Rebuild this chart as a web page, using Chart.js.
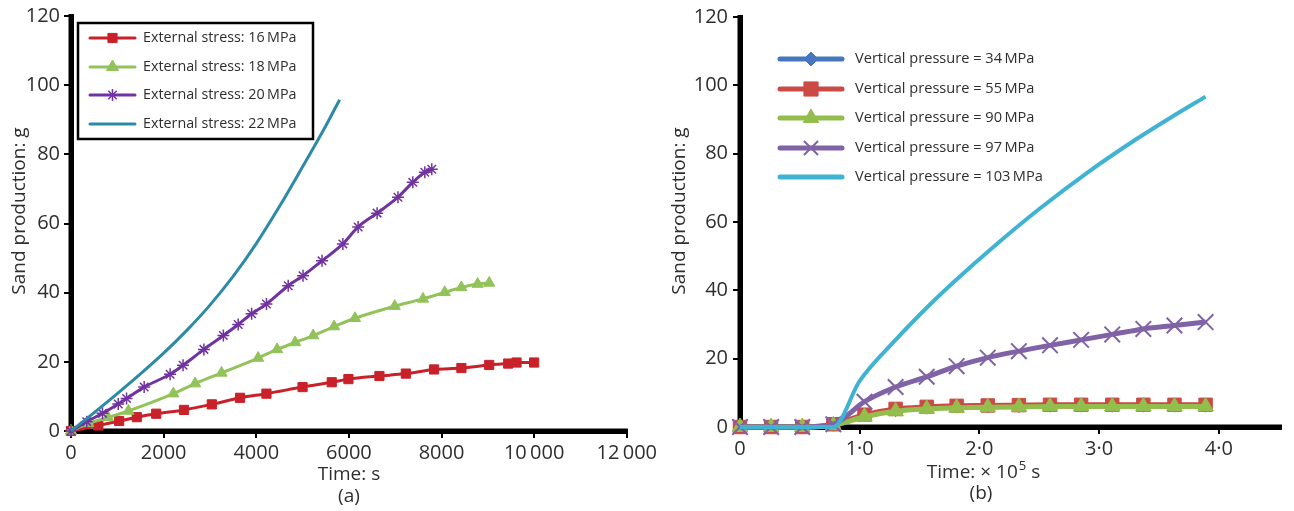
<!DOCTYPE html>
<html>
<head>
<meta charset="utf-8">
<script src="https://cdn.jsdelivr.net/npm/chart.js@4.4.1/dist/chart.umd.min.js"></script>
<style>
  html, body { margin: 0; padding: 0; background: #fff; }
  #wrap { position: relative; width: 1294px; height: 511px; overflow: hidden; background: #fff; }
  #chartA { position: absolute; left: 0; top: 0; }
  #chartB { position: absolute; left: 660px; top: 0; }
</style>
</head>
<body>
<div id="wrap">
  <canvas id="chartA" width="660" height="511"></canvas>
  <canvas id="chartB" width="634" height="511"></canvas>
</div>
<script>
// ---- (a) sand production vs time under different external stresses ----
const stress16Time = [0, 590, 1040, 1420, 1840, 2440, 3040, 3650, 4220, 5000, 5630, 5990, 6660, 7230, 7840, 8430, 9030, 9440, 9620, 10000];
const stress16Sand = [0, 1.6, 2.9, 4.0, 5.0, 6.1, 7.7, 9.6, 10.8, 12.7, 14.1, 15.0, 15.9, 16.6, 17.8, 18.2, 19.1, 19.5, 19.8, 19.8];

const stress18Time = [0, 370, 800, 1240, 2210, 2680, 3250, 4040, 4450, 4840, 5230, 5680, 6130, 6990, 7600, 8070, 8430, 8780, 9030];
const stress18Sand = [0, 2.2, 3.9, 5.8, 10.8, 13.7, 16.8, 21.1, 23.6, 25.6, 27.6, 30.2, 32.6, 36.1, 38.2, 40.1, 41.5, 42.5, 42.8];

const stress20Time = [0, 340, 680, 1020, 1200, 1580, 2140, 2420, 2870, 3290, 3610, 3900, 4220, 4690, 5010, 5420, 5870, 6200, 6610, 7060, 7380, 7640, 7790];
const stress20Sand = [0, 2.7, 5.1, 7.8, 9.4, 12.7, 16.4, 19.0, 23.6, 27.6, 30.8, 33.9, 36.7, 42.0, 44.9, 49.2, 54.1, 59.0, 63.0, 67.6, 71.9, 74.8, 75.7];

const stress22Time = [0, 500, 1000, 1500, 2000, 2500, 3000, 3500, 4000, 4500, 5000, 5500, 5800];
const stress22Sand = [0, 5.3, 10.8, 16.5, 22.5, 29.1, 36.4, 44.7, 54.2, 64.9, 76.4, 88.2, 95.8];

const stressLabels = ['External stress: 16\u2009MPa', 'External stress: 18\u2009MPa', 'External stress: 20\u2009MPa', 'External stress: 22\u2009MPa'];
const timeTicksA = [0, 2000, 4000, 6000, 8000, 10000, 12000];
const sandTicks = [0, 20, 40, 60, 80, 100, 120];

// ---- (b) sand production vs time under different vertical pressures (time in 1e5 s) ----
const pressureTime = [0, 0.26, 0.52, 0.78, 1.04, 1.30, 1.56, 1.81, 2.07, 2.33, 2.59, 2.85, 3.11, 3.37, 3.63, 3.89];
const pressure34Sand = [0, 0, 0, 0.5, 3.2, 4.8, 5.5, 5.8, 5.9, 6.0, 6.1, 6.1, 6.1, 6.1, 6.1, 6.1];
const pressure55Sand = [0, 0, 0, 0.8, 3.6, 5.3, 5.9, 6.2, 6.3, 6.4, 6.5, 6.5, 6.5, 6.5, 6.5, 6.5];
const pressure90Sand = [0, 0, 0, 0.5, 3.0, 4.6, 5.3, 5.6, 5.8, 5.9, 6.0, 6.0, 6.0, 6.0, 6.0, 6.0];
const pressure97Sand = [0, 0, 0, 0.8, 7.4, 11.7, 14.7, 17.8, 20.3, 22.2, 23.9, 25.5, 27.1, 28.7, 29.7, 30.7];
const pressure103Time = [0, 0.26, 0.52, 0.78, 1.0, 1.3, 1.6, 1.8, 2.1, 2.5, 2.9, 3.3, 3.6, 3.89];
const pressure103Sand = [0, 0, 0, 0, 13.5, 25.5, 36.3, 42.9, 52.2, 63.8, 74.4, 84.0, 90.6, 96.7];

const pressureLabels = ['Vertical pressure = 34\u2009MPa', 'Vertical pressure = 55\u2009MPa', 'Vertical pressure = 90\u2009MPa', 'Vertical pressure = 97\u2009MPa', 'Vertical pressure = 103\u2009MPa'];
const timeTicksB = [0, 1, 2, 3, 4];

const FONT = '"Open Sans", "DejaVu Sans", sans-serif';
const INK = '#2e2e2e';

function pts(xs, ys) { return xs.map((x, i) => ({ x: x, y: ys[i] })); }

function fixedTicks(values) {
  return function (scale) { scale.ticks = values.map(v => ({ value: v })); };
}

function axisCommon(extra) {
  return Object.assign({
    type: 'linear',
    border: { display: true, color: '#000', width: 5 },
    grid: { display: true, drawOnChartArea: false, drawTicks: true, tickLength: 7, color: '#000', lineWidth: 2 },
  }, extra);
}

// heavy black axis lines along the left and bottom edges of the plot area
const heavyAxes = {
  id: 'heavyAxes',
  beforeDatasetsDraw(chart) {
    const { ctx, chartArea: a } = chart;
    ctx.save();
    ctx.strokeStyle = '#000';
    ctx.lineWidth = 5;
    ctx.lineCap = 'butt';
    ctx.beginPath();
    ctx.moveTo(a.left, a.top - 2);
    ctx.lineTo(a.left, a.bottom + 2.5);
    ctx.moveTo(a.left - 2.5, a.bottom);
    ctx.lineTo(a.right + 1, a.bottom);
    ctx.stroke();
    ctx.restore();
  }
};

function drawMarker(ctx, style, radius, x, y, color, borderWidth) {
  ctx.save();
  ctx.fillStyle = color;
  ctx.strokeStyle = color;
  ctx.lineWidth = borderWidth;
  Chart.helpers.drawPoint(ctx, { pointStyle: style, radius: radius, rotation: 0, borderWidth: borderWidth }, x, y);
  ctx.restore();
}

function drawLegendRows(ctx, rows, lineX1, lineX2, textX, font) {
  rows.forEach(r => {
    ctx.save();
    ctx.strokeStyle = r.color;
    ctx.lineWidth = r.lineWidth;
    ctx.lineCap = 'round';
    ctx.beginPath();
    ctx.moveTo(lineX1, r.y);
    ctx.lineTo(lineX2, r.y);
    ctx.stroke();
    ctx.restore();
    if (r.style) drawMarker(ctx, r.style, r.radius, (lineX1 + lineX2) / 2, r.y, r.color, r.borderWidth);
    ctx.save();
    ctx.font = font;
    ctx.fillStyle = INK;
    ctx.textAlign = 'left';
    ctx.textBaseline = 'middle';
    ctx.fillText(r.text, textX, r.y);
    ctx.restore();
  });
}

function drawYTitle(ctx, x, y) {
  ctx.save();
  ctx.translate(x, y);
  ctx.rotate(-Math.PI / 2);
  ctx.font = '19px ' + FONT;
  ctx.fillStyle = INK;
  ctx.textAlign = 'center';
  ctx.textBaseline = 'middle';
  ctx.fillText('Sand production: g', 0, 0);
  ctx.restore();
}

function centerText(ctx, text, x, y, size) {
  ctx.save();
  ctx.font = size + 'px ' + FONT;
  ctx.fillStyle = INK;
  ctx.textAlign = 'center';
  ctx.textBaseline = 'middle';
  ctx.fillText(text, x, y);
  ctx.restore();
}

const colA = { s16: '#c9212a', s18: '#92c25a', s20: '#7033a0', s22: '#2d8aa6' };
const colB = { p34: '#4676bd', p55: '#cb4a45', p90: '#93bd4c', p97: '#8062a6', p103: '#3fb3d1' };

// ---------- chart (a) ----------
new Chart(document.getElementById('chartA'), {
  type: 'line',
  data: {
    datasets: [
      { label: stressLabels[3], data: pts(stress22Time, stress22Sand), borderColor: colA.s22, borderWidth: 3,
        pointRadius: 0, cubicInterpolationMode: 'monotone', order: 1 },
      { label: stressLabels[2], data: pts(stress20Time, stress20Sand), borderColor: colA.s20, backgroundColor: colA.s20,
        borderWidth: 3, pointStyle: 'star', pointRadius: 6, pointBorderWidth: 1.5, cubicInterpolationMode: 'monotone', order: 2 },
      { label: stressLabels[1], data: pts(stress18Time, stress18Sand), borderColor: colA.s18, backgroundColor: colA.s18,
        borderWidth: 3, pointStyle: 'triangle', pointRadius: 6.5, pointBorderWidth: 1, cubicInterpolationMode: 'monotone', order: 3 },
      { label: stressLabels[0], data: pts(stress16Time, stress16Sand), borderColor: colA.s16, backgroundColor: colA.s16,
        borderWidth: 3, pointStyle: 'rect', pointRadius: 6.5, pointBorderWidth: 1, cubicInterpolationMode: 'monotone', order: 4 },
    ]
  },
  options: {
    responsive: false,
    animation: false,
    events: [],
    layout: { padding: { left: 0, right: 33, top: 14, bottom: 0 } },
    datasets: { line: { clip: false } },
    plugins: { legend: { display: false }, tooltip: { enabled: false } },
    scales: {
      x: axisCommon({
        min: 0, max: 12000,
        afterBuildTicks: fixedTicks(timeTicksA),
        afterFit: s => { s.height = 80; },
        ticks: {
          color: INK, font: { family: FONT, size: 20 }, padding: 3, maxRotation: 0,
          callback: v => v >= 10000 ? String(v).replace(/(\d{3})$/, '\u2009$1') : String(v)
        }
      }),
      y: axisCommon({
        min: 0, max: 120,
        afterBuildTicks: fixedTicks(sandTicks),
        afterFit: s => { s.width = 71; },
        ticks: { color: INK, font: { family: FONT, size: 20 }, padding: 4 }
      })
    }
  },
  plugins: [heavyAxes, {
    id: 'decorA',
    afterDraw(chart) {
      const ctx = chart.ctx;
      // legend box
      ctx.save();
      ctx.strokeStyle = '#000';
      ctx.lineWidth = 2.5;
      ctx.strokeRect(78, 23, 235, 116);
      ctx.restore();
      drawLegendRows(ctx, [
        { y: 38, color: colA.s16, lineWidth: 3, style: 'rect', radius: 6.5, borderWidth: 1, text: stressLabels[0] },
        { y: 67, color: colA.s18, lineWidth: 3, style: 'triangle', radius: 7, borderWidth: 1, text: stressLabels[1] },
        { y: 95, color: colA.s20, lineWidth: 3, style: 'star', radius: 6, borderWidth: 1.5, text: stressLabels[2] },
        { y: 124, color: colA.s22, lineWidth: 3, style: null, text: stressLabels[3] },
      ], 90, 135, 143, '14.3px ' + FONT);
      drawYTitle(ctx, 20, 211);
      centerText(ctx, 'Time: s', 349, 475, 19);
      centerText(ctx, '(a)', 349, 497, 19);
    }
  }]
});

// ---------- chart (b) ----------
new Chart(document.getElementById('chartB'), {
  type: 'line',
  data: {
    datasets: [
      { label: pressureLabels[4], data: pts(pressure103Time, pressure103Sand), borderColor: colB.p103, borderWidth: 4,
        pointRadius: 0, cubicInterpolationMode: 'monotone', order: 1 },
      { label: pressureLabels[3], data: pts(pressureTime, pressure97Sand), borderColor: colB.p97, backgroundColor: colB.p97,
        borderWidth: 5, pointStyle: 'crossRot', pointRadius: 11, pointBorderWidth: 2, cubicInterpolationMode: 'monotone', order: 2 },
      { label: pressureLabels[2], data: pts(pressureTime, pressure90Sand), borderColor: colB.p90, backgroundColor: colB.p90,
        borderWidth: 5, pointStyle: 'triangle', pointRadius: 9, pointBorderWidth: 1, cubicInterpolationMode: 'monotone', order: 3 },
      { label: pressureLabels[1], data: pts(pressureTime, pressure55Sand), borderColor: colB.p55, backgroundColor: colB.p55,
        borderWidth: 5, pointStyle: 'rect', pointRadius: 9.5, pointBorderWidth: 1, cubicInterpolationMode: 'monotone', order: 4 },
      { label: pressureLabels[0], data: pts(pressureTime, pressure34Sand), borderColor: colB.p34, backgroundColor: colB.p34,
        borderWidth: 5, pointStyle: 'rectRot', pointRadius: 6, pointBorderWidth: 1, cubicInterpolationMode: 'monotone', order: 5 },
    ]
  },
  options: {
    responsive: false,
    animation: false,
    events: [],
    layout: { padding: { left: 0, right: 1, top: 15, bottom: 0 } },
    datasets: { line: { clip: false } },
    plugins: { legend: { display: false }, tooltip: { enabled: false } },
    scales: {
      x: axisCommon({
        min: 0, max: 4.52,
        afterBuildTicks: fixedTicks(timeTicksB),
        afterFit: s => { s.height = 84; },
        ticks: {
          color: INK, font: { family: FONT, size: 20 }, padding: 3, maxRotation: 0,
          callback: v => v === 0 ? '0' : v.toFixed(1).replace('.', '\u00B7')
        }
      }),
      y: axisCommon({
        min: 0, max: 120,
        afterBuildTicks: fixedTicks(sandTicks),
        afterFit: s => { s.width = 80; },
        ticks: { color: INK, font: { family: FONT, size: 20 }, padding: 5 }
      })
    }
  },
  plugins: [heavyAxes, {
    id: 'decorB',
    afterDraw(chart) {
      const ctx = chart.ctx;
      drawLegendRows(ctx, [
        { y: 59, color: colB.p34, lineWidth: 5, style: 'rectRot', radius: 7, borderWidth: 1, text: pressureLabels[0] },
        { y: 89, color: colB.p55, lineWidth: 5, style: 'rect', radius: 10, borderWidth: 1, text: pressureLabels[1] },
        { y: 118, color: colB.p90, lineWidth: 5, style: 'triangle', radius: 9, borderWidth: 1, text: pressureLabels[2] },
        { y: 148, color: colB.p97, lineWidth: 5, style: 'crossRot', radius: 10, borderWidth: 2, text: pressureLabels[3] },
        { y: 177, color: colB.p103, lineWidth: 5, style: null, text: pressureLabels[4] },
      ], 120, 182, 195, '14.6px ' + FONT);
      drawYTitle(ctx, 20, 211);
      // x-axis title with superscript exponent
      ctx.save();
      ctx.fillStyle = INK;
      ctx.textBaseline = 'alphabetic';
      ctx.textAlign = 'left';
      const big = '19px ' + FONT, small = '13px ' + FONT;
      const p1 = 'Time: \u00D7 10', p2 = '5', p3 = ' s';
      ctx.font = big; const w1 = ctx.measureText(p1).width, w3 = ctx.measureText(p3).width;
      ctx.font = small; const w2 = ctx.measureText(p2).width;
      let x = 323 - (w1 + w2 + w3) / 2;
      const base = 478;
      ctx.font = big; ctx.fillText(p1, x, base); x += w1;
      ctx.font = small; ctx.fillText(p2, x + 1, base - 8); x += w2 + 1;
      ctx.font = big; ctx.fillText(p3, x, base);
      ctx.restore();
      centerText(ctx, '(b)', 321, 494, 19);
    }
  }]
});
</script>
</body>
</html>
